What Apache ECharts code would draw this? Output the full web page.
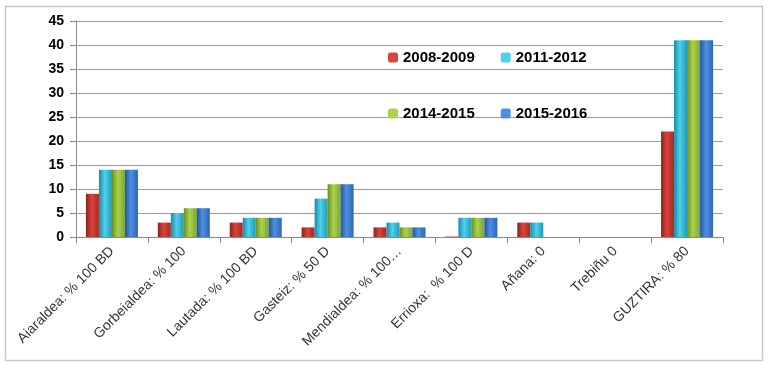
<!DOCTYPE html>
<html><head><meta charset="utf-8">
<script src="https://cdn.jsdelivr.net/npm/echarts@6/dist/echarts.min.js"></script>
<style>html,body{margin:0;padding:0;background:#fff}#c{width:768px;height:372px}</style>
</head><body><div id="c"></div>
<script>
const categories = ['Aiaraldea: % 100 BD','Gorbeialdea: % 100','Lautada: % 100 BD','Gasteiz: % 50 D','Mendialdea: % 100…','Errioxa:  % 100 D','Añana: 0','Trebiñu 0','GUZTIRA: % 80'];
const seriesNames = ['2008-2009','2011-2012','2014-2015','2015-2016'];
const s2008 = [9, 3, 3, 2, 2, 0.1, 3, 0, 22];
const s2011 = [14, 5, 4, 8, 3, 4, 3, 0, 41];
const s2014 = [14, 6, 4, 11, 2, 4, 0, 0, 41];
const s2015 = [14, 6, 4, 11, 2, 4, 0, 0, 41];
const yTicks = [0,5,10,15,20,25,30,35,40,45];

const palette = [
  ['#8e1f1c','#d9443e','#a72824'],
  ['#1a8aa6','#4fd0ea','#2398b8'],
  ['#6a8f22','#a9d24d','#7fa62f'],
  ['#1f55a3','#4f8fe0','#2a66b8']
];
function grad(p){
  return {type:'linear',x:0,y:0,x2:1,y2:0,colorStops:[
    {offset:0,color:p[0]},{offset:0.45,color:p[1]},{offset:1,color:p[2]}]};
}
const values = [s2008,s2011,s2014,s2015];
const legendText = {fontFamily:'Liberation Sans',fontWeight:'bold',fontSize:15,color:'#000'};
const chart = echarts.init(document.getElementById('c'));
chart.setOption({
  animation:false,
  backgroundColor:'#fff',
  graphic:[{type:'rect',shape:{x:5.5,y:6.5,width:757,height:354},style:{fill:'none',stroke:'#c8c8c8',lineWidth:1.5}}],
  legend:[
    {data:[{name:'2008-2009',itemStyle:{color:palette[0][1]}},{name:'2011-2012',itemStyle:{color:palette[1][1]}}],
     left:383,top:45,itemWidth:10,itemHeight:10,itemGap:26,textStyle:legendText},
    {data:[{name:'2014-2015',itemStyle:{color:palette[2][1]}},{name:'2015-2016',itemStyle:{color:palette[3][1]}}],
     left:383,top:101,itemWidth:10,itemHeight:10,itemGap:26,textStyle:legendText}
  ],
  grid:{left:76,right:45,top:21,bottom:135},
  xAxis:{type:'category',data:categories,
    axisLine:{lineStyle:{color:'#888'}},
    axisTick:{show:true,length:6,lineStyle:{color:'#888'}},
    axisLabel:{rotate:45,interval:0,fontFamily:'Liberation Sans',fontSize:14,color:'#333',margin:12}},
  yAxis:{type:'value',min:0,max:45,interval:5,
    axisLine:{show:true,lineStyle:{color:'#888'}},
    axisTick:{show:true,length:6,lineStyle:{color:'#888'}},
    splitLine:{lineStyle:{color:'#999'}},
    axisLabel:{fontFamily:'Liberation Sans',fontWeight:'bold',fontSize:14,color:'#000',margin:12,
      formatter:v=>yTicks.includes(v)?String(v):''}},
  series:seriesNames.map((n,i)=>({
    name:n,type:'bar',data:values[i],barWidth:13,barGap:'0%',
    itemStyle:{color:grad(palette[i])}
  }))
});
</script></body></html>
